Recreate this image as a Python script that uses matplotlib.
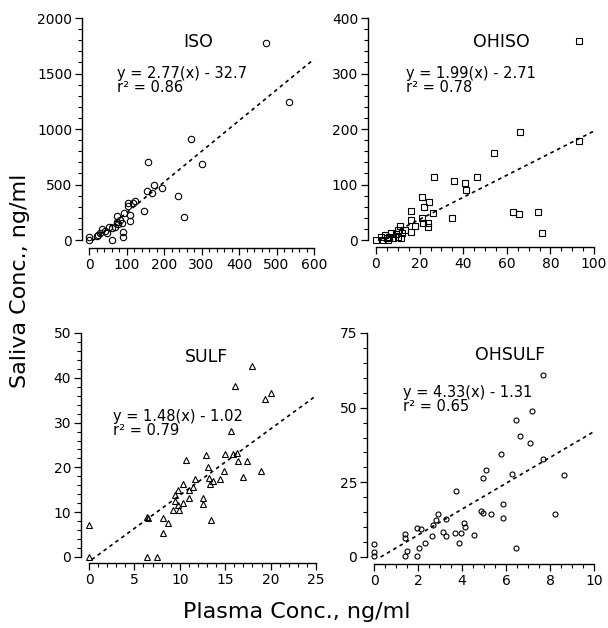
import matplotlib
matplotlib.use('Agg')
from matplotlib import pyplot as plt
from matplotlib.ticker import MultipleLocator

plt.rcParams['font.family'] = ['DejaVu Sans']

# ISO
iso_x = [471, 532, 271, 301, 156, 237, 252, 195, 154, 169, 174, 146, 122, 116, 103, 103,
         109, 93, 108, 74, 89, 90, 91, 60, 74, 69, 60, 52, 43, 34, 29, 25, 20, 1, 1, 47, 78, 83]
iso_y = [1772, 1246, 910, 685, 703, 396, 204, 471, 444, 426, 495, 261, 351, 330, 309, 330,
         174, 240, 225, 216, 156, 75, 24, 0, 165, 120, 105, 120, 84, 96, 60, 45, 36, 30, 0, 60, 144, 180]

# OHISO
ohiso_x = [93, 93, 66, 54, 26.5, 36, 46.5, 41, 41.5, 63, 65.5, 74.5, 76, 35, 21, 22, 24.5, 26,
           16, 16, 18, 16, 21, 21.5, 24, 24, 11, 10, 0, 2.5, 4, 5, 6, 7, 8, 9, 10, 11.5, 12, 13.5,
           3, 5.5]
ohiso_y = [358, 179, 195, 156, 113, 106, 114, 102, 90, 51, 46, 51, 12, 39, 78, 60, 69, 48,
           52, 36, 25, 14, 39, 31, 31, 24, 25, 18, 0, 5, 9, 3, 6, 12, 3, 10, 5, 3, 12, 18,
           0, 0]

# SULF
sulf_x = [17.9, 16.1, 19.4, 20, 15.6, 12.9, 15, 15.9, 16.3, 16.4, 17.4, 18.9, 17, 14.9, 14.4,
          13.7, 13.2, 13.1, 13.3, 10.7, 10.3, 11.7, 11.4, 11, 11, 10.3, 9.8, 9.5, 9.5, 9.8, 9.2,
          9.9, 12.6, 12.5, 13.4, 6.4, 6.5, 0, 0, 6.4, 7.5, 8.1, 8.7, 8.2]
sulf_y = [42.6, 38.1, 35.2, 36.5, 28.1, 22.8, 23.1, 23.1, 23.3, 21.4, 21.4, 19.2, 17.9, 19.1,
          17.5, 16.9, 17.6, 20.1, 16.4, 21.7, 16.4, 17.5, 15.6, 14.9, 13.2, 12.1, 14.9, 13.8, 12.6,
          11.5, 10.6, 10.6, 13.2, 11.8, 8.2, 9.0, 8.8, 7.2, 0, 0, 0, 8.6, 7.6, 5.4]

# OHSULF
ohsulf_x = [7.67, 7.17, 6.45, 6.64, 7.08, 7.69, 8.64, 6.27, 5.75, 5.07, 4.95, 5.85, 5.85, 5.34,
            4.86, 4.96, 8.21, 6.47, 3.74, 4.56, 4.07, 4.14, 3.96, 3.66, 3.85, 3.25, 3.25, 3.15,
            2.92, 2.83, 2.7, 2.62, 2.32, 2.03, 1.94, 1.94, 2.13, 1.43, 1.43, 1.43, 1.5, 0, 0, 0]
ohsulf_y = [61, 48.9, 45.8, 40.5, 38.1, 32.7, 27.5, 27.7, 34.6, 29, 26.5, 17.9, 13.2, 14.3,
            15.3, 14.7, 14.3, 3, 22, 7.5, 11.4, 10, 8.1, 8, 4.7, 12.8, 6.9, 8.4,
            14.5, 12.5, 10.8, 6.9, 4.8, 2.9, 0.2, 9.8, 9.3, 7.6, 6.5, 0.2, 1.9, 4.2, 1.7, 0.2]

names = ['ISO', 'OHISO', 'SULF', 'OHSULF']
slopes = [2.77, 1.99, 1.48, 4.33]
intercepts = [-32.7, -2.71, -1.02, -1.31]
r2 = ['0.86', '0.78', '0.79', '0.65']
fit_range = [(10, 600), (2, 100), (0.3, 25), (0.3, 10)]
xlims = [600, 100, 25, 10]
ylims = [2000, 400, 50, 75]
xmaj = [100, 20, 5, 2]
xmin = [20, 5, 1, 0.5]
ymaj = [500, 100, 10, 25]
ymin = [100, 20, 2, 5]
xs = [iso_x, ohiso_x, sulf_x, ohsulf_x]
ys = [iso_y, ohiso_y, sulf_y, ohsulf_y]
markers = ['o', 's', '^', 'o']
msizes = [4.6, 4.2, 4.0, 3.6]

W, H = 608, 628
fig = plt.figure(figsize=(W / 100, H / 100), dpi=100)

# panel boxes in pixels: left, top, right, bottom
boxes = [(89, 18, 314, 240), (376, 18, 594, 240), (89, 333, 316, 557), (374, 333, 594, 557)]
offsets = [(7, 8), (8, 7), (8, 6), (7, 7)]
title_pos = [(198, 42), (501, 42), (207, 357), (510, 355)]
eq_pos = [(117, 66), (406, 66), (113, 409), (403, 385)]

for i in range(4):
    l, t, r, b = boxes[i]
    ax = fig.add_axes([l / W, 1 - b / H, (r - l) / W, (b - t) / H])
    ax.plot(xs[i], ys[i], linestyle='none', marker=markers[i], markersize=msizes[i],
            markerfacecolor='none', markeredgecolor='black', markeredgewidth=0.8, clip_on=False)
    x0, x1 = fit_range[i]
    ax.plot([x0, x1], [slopes[i] * x0 + intercepts[i], slopes[i] * x1 + intercepts[i]],
            color='black', linestyle=(0, (2.2, 2.2)), linewidth=1.2, clip_on=False)
    ax.set_xlim(0, xlims[i])
    ax.set_ylim(0, ylims[i])
    ax.xaxis.set_major_locator(MultipleLocator(xmaj[i]))
    ax.xaxis.set_minor_locator(MultipleLocator(xmin[i]))
    ax.yaxis.set_major_locator(MultipleLocator(ymaj[i]))
    ax.yaxis.set_minor_locator(MultipleLocator(ymin[i]))
    for s in ['top', 'right']:
        ax.spines[s].set_visible(False)
    ax.spines['left'].set_position(('outward', offsets[i][0] * 0.72))
    ax.spines['bottom'].set_position(('outward', offsets[i][1] * 0.72))
    ax.spines['left'].set_linewidth(1.0)
    ax.spines['bottom'].set_linewidth(1.0)
    ax.tick_params(which='major', direction='out', length=5, width=0.9, labelsize=10, pad=2)
    ax.tick_params(which='minor', direction='out', length=3.2, width=0.8)
    ax.patch.set_visible(False)

    tx, ty = title_pos[i]
    fig.text(tx / W, 1 - ty / H, names[i], fontsize=12.5, ha='center', va='center')
    ex, ey = eq_pos[i]
    sign = '-' if intercepts[i] < 0 else '+'
    fig.text(ex / W, 1 - ey / H, f'y = {slopes[i]:.2f}(x) {sign} {abs(intercepts[i]):g}\nr² = {r2[i]}',
             fontsize=10.5, ha='left', va='top', linespacing=0.95)

fig.text(20 / W, 1 - 281 / H, 'Saliva Conc., ng/ml', rotation=90, fontsize=16,
         ha='center', va='center')
fig.text(297 / W, 1 - 612 / H, 'Plasma Conc., ng/ml', fontsize=16, ha='center', va='center')

fig.savefig('out.png', dpi=100)
